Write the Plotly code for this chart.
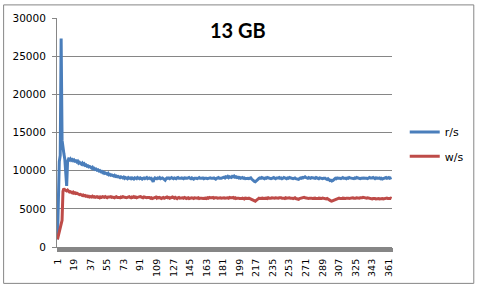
import plotly.graph_objects as go

r_s = [
    1000, 6000, 11200, 12000, 27300, 14000, 12600, 12200, 11500, 10200, 8000, 11200, 11500, 11400, 11550, 11350, 11450, 11300, 11400, 11250,
    11300, 11150, 11250, 11000, 11100, 10950, 10850, 11000, 10800, 10900, 10700, 10750, 10600, 10650, 10500, 10550, 10400, 10350, 10450, 10250,
    10300, 10150, 10200, 10050, 10100, 9950, 10000, 9850, 9900, 9750, 9800, 9650, 9700, 9600, 9550, 9650, 9450, 9500, 9400, 9450,
    9350, 9300, 9400, 9250, 9300, 9200, 9250, 9150, 9100, 9200, 9100, 9050, 9150, 9000, 9100, 9050, 8950, 9100, 9000, 9050,
    8950, 9050, 9000, 8900, 9050, 9000, 8950, 9100, 9000, 8950, 9050, 9000, 8900, 9000, 9050, 8950, 9000, 9100, 8950, 9000,
    9050, 8950, 9000, 8800, 8550, 8900, 9050, 9000, 8950, 9050, 9000, 9100, 8950, 9000, 9050, 8950, 8850, 8750, 8950, 9050,
    9000, 9050, 8950, 9000, 9100, 9000, 8950, 9050, 9000, 8950, 9050, 9100, 9000, 8950, 9000, 9050, 9000, 8950, 9050, 9000,
    8950, 9000, 9050, 9100, 9000, 8950, 9050, 9000, 8900, 9000, 9050, 9000, 8950, 9050, 9100, 9000, 8950, 9000, 9050, 8950,
    9000, 9050, 9000, 8950, 9000, 9100, 9050, 9000, 8950, 9000, 9050, 9000, 8900, 9000, 9050, 9100, 9000, 8950, 9000, 9050,
    9100, 9150, 9050, 9200, 9150, 9250, 9100, 9200, 9150, 9100, 9250, 9200, 9300, 9150, 9200, 9100, 9150, 9050, 9100, 9000,
    9050, 9100, 9000, 9050, 8950, 9000, 9050, 9000, 8950, 9000, 9050, 8900, 8850, 8700, 8600, 8550, 8650, 8800, 8950, 9000,
    9050, 9000, 9100, 9050, 9000, 8950, 9050, 9000, 9100, 9050, 9000, 9050, 8950, 9000, 9050, 9100, 9000, 8950, 9050, 9000,
    9050, 9100, 9000, 9050, 8950, 9000, 9100, 9050, 9000, 8950, 9050, 9000, 9100, 9050, 9000, 9050, 8950, 9000, 9050, 8950,
    8900, 8800, 8850, 8950, 9050, 9000, 9100, 9050, 9150, 9200, 9100, 9050, 9000, 9100, 9050, 9000, 9100, 9050, 9000, 9050,
    9000, 9100, 9050, 9000, 8950, 9050, 9000, 9050, 8950, 9000, 9050, 9000, 8900, 8850, 8950, 8800, 8700, 8750, 8650, 8700,
    8800, 8900, 9000, 8950, 9050, 9000, 9050, 9000, 8950, 9050, 9100, 9000, 9050, 9000, 8950, 9050, 9000, 9100, 9050, 9000,
    9050, 9000, 8950, 9050, 9000, 9100, 9050, 9000, 9050, 8950, 9000, 9050, 9100, 9050, 9000, 9050, 9000, 8950, 9050, 9100,
    9050, 9000, 9050, 9100, 9000, 8950, 9050, 9000, 8950, 9000, 9050, 8950, 9000, 8900, 8950, 9000, 9050, 9100, 9000, 9050,
    9100, 9000, 9050, 9100,
]

w_s = [
    1000, 1500, 2000, 2600, 3000, 3500, 7300, 7650, 7500, 7400, 7350, 7450, 7300, 7200, 7250, 7150, 7100, 7200, 7050, 7100,
    7000, 7050, 6950, 6900, 6850, 6900, 6800, 6750, 6800, 6700, 6750, 6650, 6700, 6600, 6650, 6550, 6600, 6550, 6650, 6550,
    6600, 6500, 6550, 6600, 6500, 6550, 6450, 6550, 6500, 6600, 6550, 6500, 6600, 6500, 6450, 6550, 6500, 6550, 6600, 6500,
    6550, 6500, 6450, 6550, 6600, 6500, 6550, 6500, 6450, 6550, 6500, 6600, 6550, 6500, 6550, 6450, 6500, 6550, 6600, 6500,
    6450, 6550, 6500, 6600, 6500, 6550, 6450, 6500, 6550, 6500, 6600, 6550, 6500, 6450, 6550, 6500, 6550, 6450, 6500, 6550,
    6500, 6400, 6450, 6350, 6400, 6500, 6450, 6550, 6400, 6500, 6450, 6500, 6400, 6350, 6450, 6500, 6400, 6450, 6500, 6550,
    6450, 6500, 6400, 6450, 6500, 6550, 6450, 6400, 6500, 6450, 6350, 6450, 6500, 6400, 6450, 6500, 6450, 6400, 6500, 6450,
    6350, 6400, 6450, 6350, 6400, 6500, 6450, 6400, 6350, 6450, 6400, 6350, 6400, 6450, 6350, 6400, 6450, 6400, 6350, 6400,
    6450, 6400, 6350, 6450, 6400, 6500, 6450, 6400, 6450, 6500, 6400, 6450, 6500, 6450, 6400, 6450, 6500, 6450, 6400, 6450,
    6500, 6450, 6400, 6450, 6500, 6450, 6400, 6500, 6450, 6400, 6450, 6500, 6400, 6450, 6350, 6400, 6450, 6400, 6350, 6300,
    6350, 6400, 6350, 6300, 6400, 6350, 6300, 6350, 6400, 6350, 6300, 6250, 6200, 6100, 6050, 6000, 6100, 6250, 6350, 6400,
    6350, 6400, 6450, 6400, 6350, 6400, 6450, 6400, 6350, 6450, 6400, 6350, 6400, 6450, 6400, 6350, 6400, 6450, 6400, 6450,
    6400, 6450, 6500, 6450, 6400, 6450, 6400, 6350, 6450, 6400, 6450, 6500, 6450, 6400, 6450, 6400, 6350, 6400, 6450, 6350,
    6300, 6200, 6250, 6350, 6400, 6450, 6500, 6450, 6500, 6450, 6400, 6450, 6400, 6350, 6400, 6450, 6400, 6350, 6400, 6450,
    6400, 6350, 6300, 6350, 6400, 6350, 6300, 6350, 6400, 6350, 6300, 6250, 6300, 6350, 6250, 6200, 6100, 6050, 6000, 6050,
    6150, 6250, 6300, 6350, 6300, 6350, 6400, 6350, 6300, 6350, 6400, 6350, 6300, 6350, 6400, 6450, 6400, 6350, 6400, 6450,
    6400, 6450, 6400, 6350, 6400, 6450, 6400, 6350, 6400, 6450, 6400, 6450, 6500, 6450, 6400, 6350, 6400, 6450, 6400, 6350,
    6400, 6350, 6300, 6350, 6400, 6350, 6300, 6350, 6400, 6350, 6300, 6350, 6400, 6350, 6300, 6350, 6400, 6350, 6400, 6350,
    6300, 6350, 6400, 6350,
]

categories = list(range(1, len(r_s) + 1))
x_tick_labels = [str(v) for v in range(1, 362, 18)]
y_ticks = [0, 5000, 10000, 15000, 20000, 25000, 30000]
title_text = "13 GB"

W, H = 481, 289
ML, MR, MT, MB = 55, 84, 14, 39
PW, PH = W - ML - MR, H - MT - MB

def px_x(p):
    return (p - ML) / PW

def px_y(p):
    return (H - MB - p) / PH

GRID = "#868686"
BLUE = "#4A7EBB"
RED = "#BE4B48"

fig = go.Figure()
fig.add_trace(go.Scatter(x=categories, y=r_s, mode="lines", name="r/s",
                         line=dict(color=BLUE, width=3), legend="legend"))
fig.add_trace(go.Scatter(x=categories, y=w_s, mode="lines", name="w/s",
                         line=dict(color=RED, width=3), legend="legend2"))

legend_common = dict(font=dict(family="DejaVu Sans", size=11, color="black"),
                     bgcolor="rgba(0,0,0,0)", borderwidth=0,
                     xanchor="left", yanchor="middle", itemwidth=30,
                     tracegroupgap=0)

fig.update_layout(
    width=W, height=H,
    margin=dict(l=ML, r=MR, t=MT, b=MB, pad=0),
    paper_bgcolor="white", plot_bgcolor="white",
    showlegend=True,
    legend=dict(x=px_x(410), y=px_y(131.5), **legend_common),
    legend2=dict(x=px_x(410), y=px_y(156.5), **legend_common),
    xaxis=dict(
        range=[0.5, len(categories) + 0.5],
        tickmode="array",
        tickvals=[int(t) for t in x_tick_labels],
        ticktext=x_tick_labels,
        tickangle=-90,
        showgrid=False, zeroline=False,
        showline=True, linecolor=GRID, linewidth=1,
        ticks="outside", ticklen=4, tickcolor=GRID, tickwidth=1,
        minor=dict(dtick=1, tick0=0.5, ticks="outside", ticklen=4,
                   tickcolor=GRID, tickwidth=1, showgrid=False),
        tickfont=dict(family="DejaVu Sans", size=9.5, color="black"),
        ticklabelstandoff=3,
    ),
    yaxis=dict(
        range=[0, 30000],
        tickmode="array", tickvals=y_ticks,
        ticktext=[str(v) for v in y_ticks],
        showgrid=True, gridcolor=GRID, gridwidth=1,
        zeroline=False,
        showline=True, linecolor=GRID, linewidth=1,
        ticks="outside", ticklen=4, tickcolor=GRID, tickwidth=1,
        tickfont=dict(family="DejaVu Sans", size=10.5, color="black"),
        ticklabelstandoff=4,
    ),
    annotations=[dict(
        text="<b>" + title_text + "</b>", xref="paper", yref="paper",
        x=px_x(240), y=px_y(26), xanchor="center", yanchor="middle",
        showarrow=False, font=dict(family="Lato", size=20, color="black"),
    )],
    shapes=[dict(
        type="rect", xref="paper", yref="paper", layer="below",
        x0=px_x(0.5), x1=px_x(480.5), y0=px_y(287.5), y1=px_y(0.5),
        line=dict(color=GRID, width=1), fillcolor="rgba(0,0,0,0)",
    )],
)

fig.write_html("out.html")
